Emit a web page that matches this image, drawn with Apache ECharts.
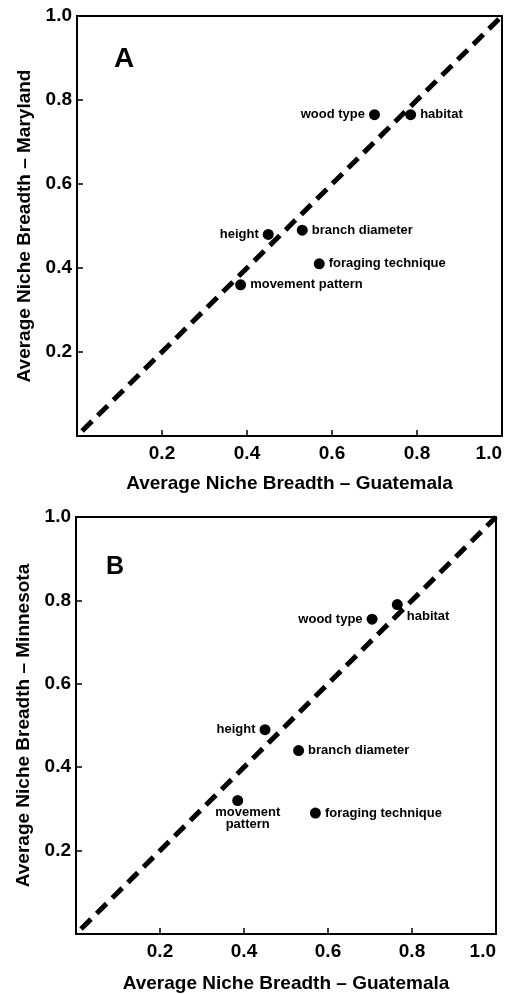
<!DOCTYPE html>
<html>
<head>
<meta charset="utf-8">
<script src="https://cdn.jsdelivr.net/npm/echarts@6/dist/echarts.min.js"></script>
<style>
html,body{margin:0;padding:0;background:#fff;}
#chart{width:510px;height:994px;}
</style>
</head>
<body>
<div id="chart"></div>
<script>
// ---- data ----
const categoriesA = ['wood type', 'habitat', 'height', 'branch diameter', 'foraging technique', 'movement pattern'];
const guatemalaA = [0.70, 0.785, 0.45, 0.53, 0.57, 0.385];
const marylandA  = [0.765, 0.765, 0.48, 0.49, 0.41, 0.36];

const categoriesB = ['wood type', 'habitat', 'height', 'branch diameter', 'foraging technique', 'movement\npattern'];
const guatemalaB = [0.705, 0.765, 0.45, 0.53, 0.57, 0.385];
const minnesotaB = [0.755, 0.79, 0.49, 0.44, 0.29, 0.32];

const tickValues = [0.2, 0.4, 0.6, 0.8, 1.0];
const identityLine = [[0.012, 0.012], [1, 1]];

// ---- layout / style ----
const FONT = "'Liberation Sans', Arial, Helvetica, sans-serif";
const labelPosA = ['left', 'right', 'left', 'right', 'right', 'right'];
const labelPosB = ['left', 'right', 'left', 'right', 'right', 'bottom'];
const labelOffB = [[0,0],[0,12],[0,0],[0,0],[0,0],[10,-4]];

function points(xs, ys, cats, pos, offs) {
  return xs.map((x, i) => ({
    value: [x, ys[i]],
    name: cats[i],
    label: {
      position: pos[i],
      offset: offs ? offs[i] : [0, 0],
      distance: 4,
      lineHeight: 12
    }
  }));
}

function xAxisDef(gi, nameGap) {
  return {
    gridIndex: gi, type: 'value', min: 0, max: 1, interval: 0.2,
    name: 'Average Niche Breadth \u2013 Guatemala',
    nameLocation: 'middle', nameGap: nameGap,
    nameTextStyle: { fontFamily: FONT, fontWeight: 'bold', fontSize: 19, color: '#000' },
    axisLine: { show: true, lineStyle: { color: '#000', width: 2 } },
    axisTick: { show: true, inside: true, length: 6, lineStyle: { color: '#000', width: 1.5 } },
    axisLabel: {
      fontFamily: FONT, fontWeight: 'bold', fontSize: 19, color: '#000', margin: 8,
      alignMaxLabel: 'right',
      formatter: v => (tickValues.some(t => Math.abs(t - v) < 1e-9) ? v.toFixed(1) : '')
    },
    splitLine: { show: false }
  };
}
function yAxisDef(gi, name, nameGap) {
  return {
    gridIndex: gi, type: 'value', min: 0, max: 1, interval: 0.2,
    name: name,
    nameLocation: 'middle', nameGap: nameGap,
    nameTextStyle: { fontFamily: FONT, fontWeight: 'bold', fontSize: 19, color: '#000' },
    axisLine: { show: true, lineStyle: { color: '#000', width: 2 } },
    axisTick: { show: true, inside: true, length: 6, lineStyle: { color: '#000', width: 1.5 } },
    axisLabel: {
      fontFamily: FONT, fontWeight: 'bold', fontSize: 19, color: '#000', margin: 5,
      formatter: v => (tickValues.some(t => Math.abs(t - v) < 1e-9) ? v.toFixed(1) : '')
    },
    splitLine: { show: false }
  };
}

const scatterStyle = {
  type: 'scatter', symbol: 'circle', symbolSize: 11,
  itemStyle: { color: '#000', opacity: 1 },
  label: {
    show: true, formatter: p => p.name,
    fontFamily: FONT, fontWeight: 'bold', fontSize: 13, color: '#000'
  },
  z: 5
};
const lineStyleSeries = {
  type: 'line', symbol: 'none', silent: true,
  lineStyle: { color: '#000', width: 5, type: [14, 8] },
  z: 3
};

const chart = echarts.init(document.getElementById('chart'), null, { renderer: 'canvas' });
chart.setOption({
  animation: false,
  backgroundColor: '#fff',
  title: [
    { text: 'A', left: 109, top: 40, textStyle: { fontFamily: FONT, fontWeight: 'bold', fontSize: 28, color: '#000' } },
    { text: 'B', left: 101, top: 550, textStyle: { fontFamily: FONT, fontWeight: 'bold', fontSize: 25, color: '#000' } }
  ],
  grid: [
    { left: 77, top: 16, width: 425, height: 420, show: true, borderColor: '#000', borderWidth: 2, backgroundColor: 'transparent' },
    { left: 76, top: 517, width: 420, height: 418, show: true, borderColor: '#000', borderWidth: 2, backgroundColor: 'transparent' }
  ],
  xAxis: [xAxisDef(0, 38), xAxisDef(1, 40)],
  yAxis: [
    yAxisDef(0, 'Average Niche Breadth \u2013 Maryland', 42),
    yAxisDef(1, 'Average Niche Breadth \u2013 Minnesota', 42)
  ],
  series: [
    Object.assign({}, lineStyleSeries, { xAxisIndex: 0, yAxisIndex: 0, data: identityLine }),
    Object.assign({}, lineStyleSeries, { xAxisIndex: 1, yAxisIndex: 1, data: identityLine }),
    Object.assign({}, scatterStyle, { xAxisIndex: 0, yAxisIndex: 0, data: points(guatemalaA, marylandA, categoriesA, labelPosA) }),
    Object.assign({}, scatterStyle, { xAxisIndex: 1, yAxisIndex: 1, data: points(guatemalaB, minnesotaB, categoriesB, labelPosB, labelOffB) })
  ]
});
</script>
</body>
</html>
